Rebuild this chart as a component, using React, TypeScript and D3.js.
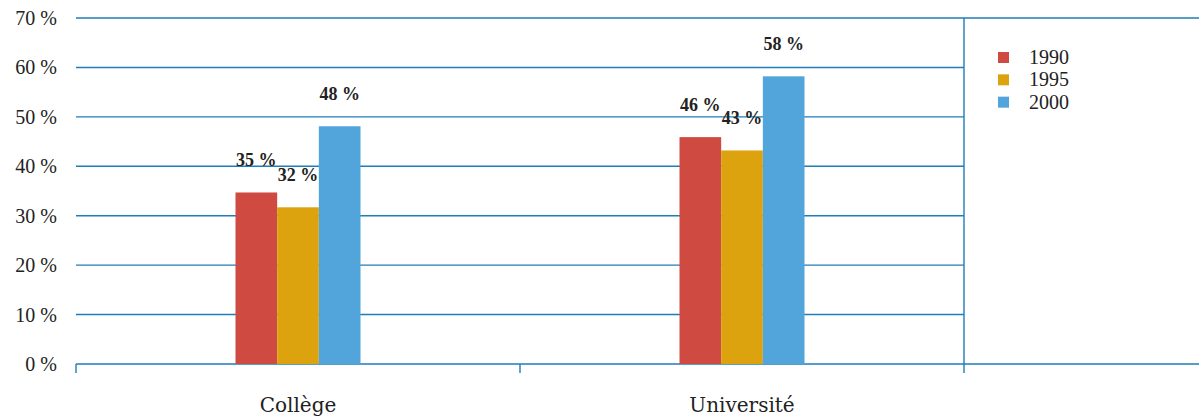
import * as d3 from 'd3';

const categories = ['Collège', 'Université'];
const years = ['1990', '1995', '2000'];
const values: Record<string, number[]> = {
  '1990': [34.7, 45.9],
  '1995': [31.7, 43.2],
  '2000': [48.1, 58.2],
};
const labels: Record<string, string[]> = {
  '1990': ['35 %', '46 %'],
  '1995': ['32 %', '43 %'],
  '2000': ['48 %', '58 %'],
};
const yTicks = [0, 10, 20, 30, 40, 50, 60, 70];
const colors = ['#cf4a40', '#dca30f', '#52a5da'];

const W = 1199;
const H = 416;
const LINE = '#1f7db8';
const SERIF = '"Liberation Serif", serif';

export default function App() {
  const left = 76;
  const plotRight = 964;
  const x = d3.scaleBand<string>().domain(categories).range([left, plotRight]);
  const xs = d3.scaleBand<string>().domain(years).range([-62.5, 62.5]);
  const y = d3.scaleLinear().domain([0, 70]).range([364, 18]);
  const color = d3.scaleOrdinal<string, string>().domain(years).range(colors);
  const lg = d3.scaleBand<string>().domain(years).range([52, 119]);

  return (
    <svg
      width={W}
      height={H}
      style={{ position: 'absolute', left: 0, top: 0, background: '#fff' }}
    >
      {/* grid */}
      {yTicks.map((t) => {
        const full = t === 0 || t === 70;
        return (
          <line
            key={t}
            x1={left}
            x2={full ? W : plotRight}
            y1={y(t)}
            y2={y(t)}
            stroke={LINE}
            strokeWidth={1.4}
          />
        );
      })}
      <line x1={plotRight} x2={plotRight} y1={y(70)} y2={y(0) + 9} stroke={LINE} strokeWidth={1.4} />
      {[left, x('Université') as number].map((v) => (
        <line key={v} x1={v} x2={v} y1={y(0)} y2={y(0) + 9} stroke={LINE} strokeWidth={1.4} />
      ))}

      {/* y labels */}
      {yTicks.map((t) => (
        <text
          key={t}
          x={57}
          y={y(t)}
          dy="0.35em"
          textAnchor="end"
          fontFamily={SERIF}
          fontSize={20}
          fill="#222"
        >
          {`${t} %`}
        </text>
      ))}

      {/* bars */}
      {categories.map((c, i) => {
        const cx = (x(c) as number) + x.bandwidth() / 2;
        return (
          <g key={c}>
            {years.map((yr) => {
              const v = values[yr][i];
              const bx = cx + (xs(yr) as number);
              return (
                <g key={yr}>
                  <rect
                    x={bx}
                    y={y(v)}
                    width={xs.bandwidth()}
                    height={y(0) - y(v)}
                    fill={color(yr)}
                  />
                  <text
                    x={bx + xs.bandwidth() / 2}
                    y={y(v) - 26}
                    textAnchor="middle"
                    fontFamily={SERIF}
                    fontWeight="bold"
                    fontSize={18}
                    fill="#222"
                  >
                    {labels[yr][i]}
                  </text>
                </g>
              );
            })}
            <text
              x={cx}
              y={412}
              textAnchor="middle"
              fontFamily='"DejaVu Serif", serif'
              fontSize={20}
              fill="#222"
            >
              {c}
            </text>
          </g>
        );
      })}

      {/* legend */}
      {years.map((yr) => (
        <g key={yr} transform={`translate(998,${lg(yr)})`}>
          <rect width={11} height={11} fill={color(yr)} />
          <text x={31} y={12} fontFamily={SERIF} fontSize={20} fill="#222">
            {yr}
          </text>
        </g>
      ))}
    </svg>
  );
}
